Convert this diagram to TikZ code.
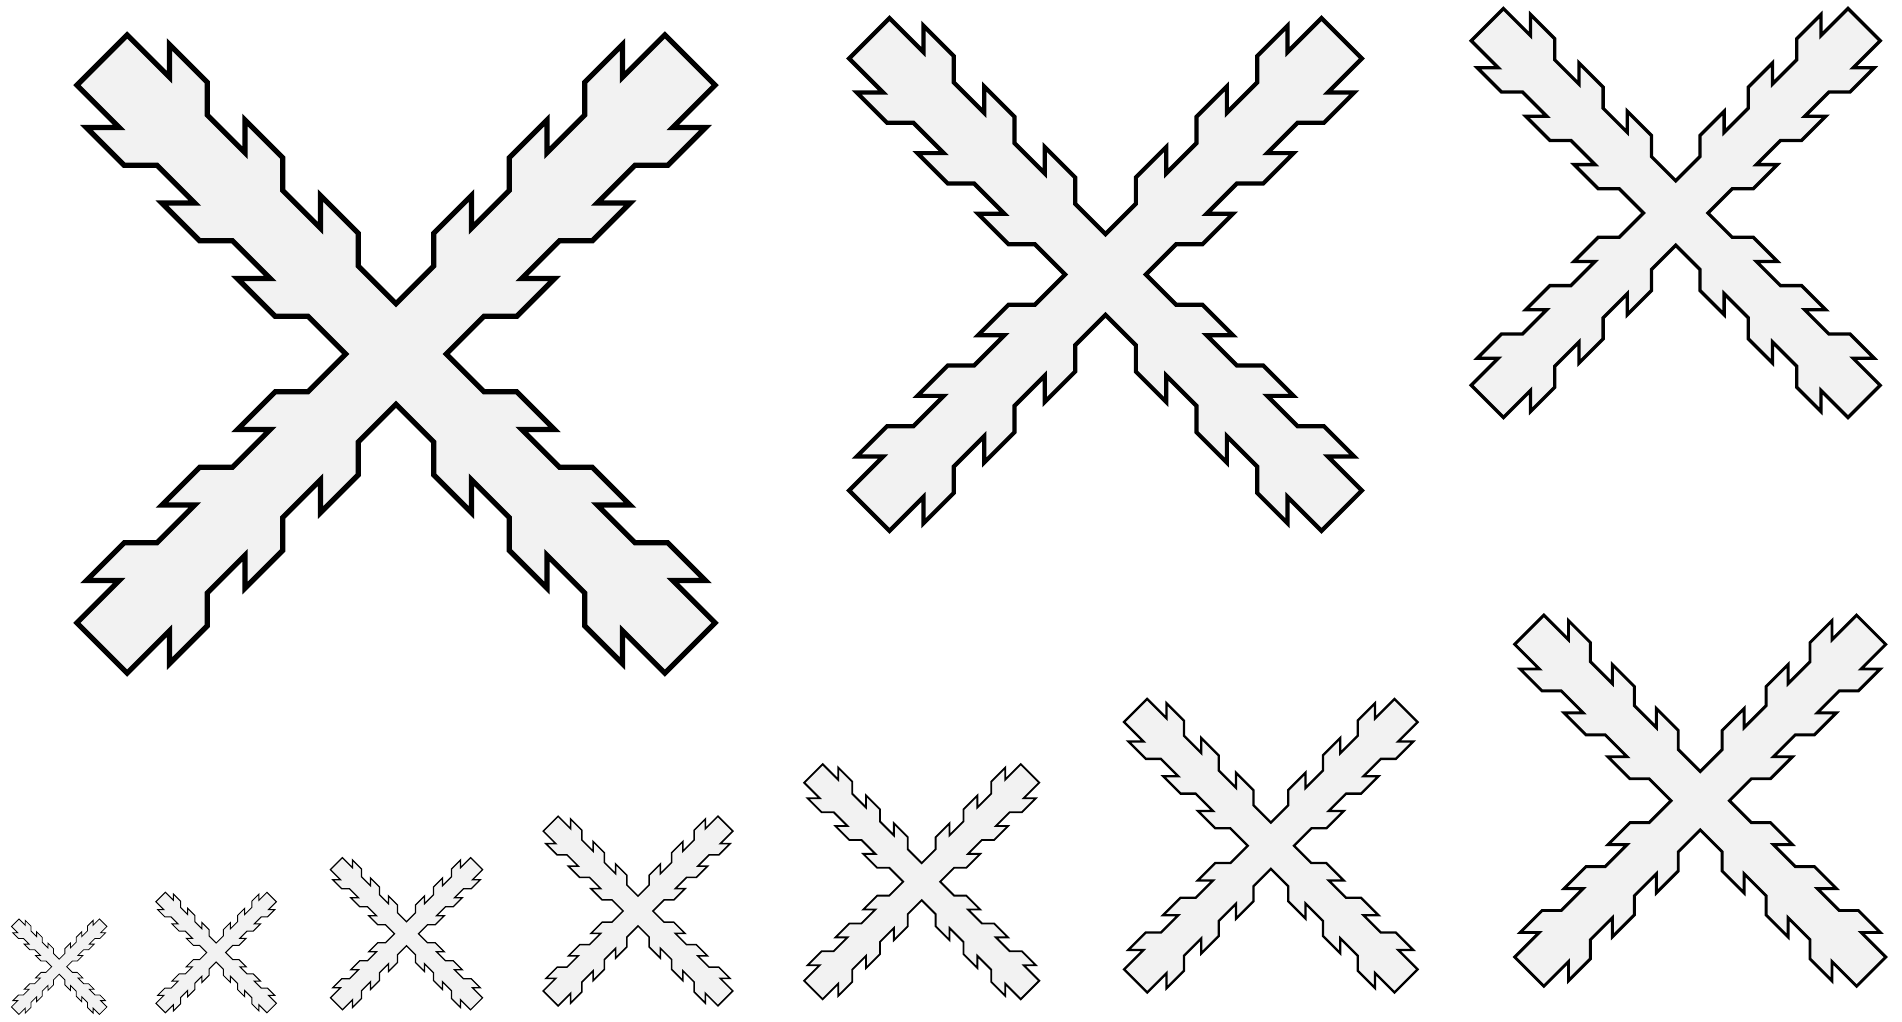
\documentclass[tikz,border=0pt]{standalone}
\definecolor{crossgray}{HTML}{F2F2F2}
\tikzset{
  crossshape/.style={fill=crossgray, draw=black, line join=miter, miter limit=10},
  burgcross/.pic={
    \filldraw[crossshape]
      (0,1.33) -- (1,2.33) -- (1,3.20) -- (2,4.20) -- (2,3.33) -- (3,4.33) -- (3,5.20)
      -- (4,6.20) -- (4,5.33) -- (5,6.33) -- (5,7.20) -- (6,8.20) -- (6,7.33)
      -- (7.12,8.45) -- (8.45,7.12)
      -- (7.33,6) -- (8.20,6) -- (7.20,5) -- (6.33,5) -- (5.33,4) -- (6.20,4)
      -- (5.20,3) -- (4.33,3) -- (3.33,2) -- (4.20,2) -- (3.20,1) -- (2.33,1)
      -- (1.33,0)
      -- (2.33,-1) -- (3.20,-1) -- (4.20,-2) -- (3.33,-2) -- (4.33,-3) -- (5.20,-3)
      -- (6.20,-4) -- (5.33,-4) -- (6.33,-5) -- (7.20,-5) -- (8.20,-6) -- (7.33,-6)
      -- (8.45,-7.12) -- (7.12,-8.45)
      -- (6,-7.33) -- (6,-8.20) -- (5,-7.20) -- (5,-6.33) -- (4,-5.33) -- (4,-6.20)
      -- (3,-5.20) -- (3,-4.33) -- (2,-3.33) -- (2,-4.20) -- (1,-3.20) -- (1,-2.33)
      -- (0,-1.33)
      -- (-1,-2.33) -- (-1,-3.20) -- (-2,-4.20) -- (-2,-3.33) -- (-3,-4.33) -- (-3,-5.20)
      -- (-4,-6.20) -- (-4,-5.33) -- (-5,-6.33) -- (-5,-7.20) -- (-6,-8.20) -- (-6,-7.33)
      -- (-7.12,-8.45) -- (-8.45,-7.12)
      -- (-7.33,-6) -- (-8.20,-6) -- (-7.20,-5) -- (-6.33,-5) -- (-5.33,-4) -- (-6.20,-4)
      -- (-5.20,-3) -- (-4.33,-3) -- (-3.33,-2) -- (-4.20,-2) -- (-3.20,-1) -- (-2.33,-1)
      -- (-1.33,0)
      -- (-2.33,1) -- (-3.20,1) -- (-4.20,2) -- (-3.33,2) -- (-4.33,3) -- (-5.20,3)
      -- (-6.20,4) -- (-5.33,4) -- (-6.33,5) -- (-7.20,5) -- (-8.20,6) -- (-7.33,6)
      -- (-8.45,7.12) -- (-7.12,8.45)
      -- (-6,7.33) -- (-6,8.20) -- (-5,7.20) -- (-5,6.33) -- (-4,5.33) -- (-4,6.20)
      -- (-3,5.20) -- (-3,4.33) -- (-2,3.33) -- (-2,4.20) -- (-1,3.20) -- (-1,2.33)
      -- cycle;
  }
}
\begin{document}
\begin{tikzpicture}[x=1pt,y=1pt]
  \fill[white] (0,0) rectangle (1902,-1021);
  \useasboundingbox (0,0) rectangle (1902,-1021);
  \pic[scale=37.76, line width=5.2pt] (c1) at (396,-354) {burgcross};
  \pic[scale=30.34, line width=4.2pt] (c2) at (1105.5,-274.5) {burgcross};
  \pic[scale=24.2, line width=3.3pt] (c3) at (1675.7,-213) {burgcross};
  \pic[scale=21.96, line width=2.9pt] (c4) at (1700.2,-800.7) {burgcross};
  \pic[scale=17.37, line width=2.3pt] (c5) at (1270.8,-845.7) {burgcross};
  \pic[scale=13.91, line width=1.8pt] (c6) at (921.7,-881.7) {burgcross};
  \pic[scale=11.22, line width=1.5pt] (c7) at (638,-911) {burgcross};
  \pic[scale=9.0, line width=1.2pt] (c8) at (406.5,-933.7) {burgcross};
  \pic[scale=7.13, line width=1.0pt] (c9) at (216.2,-952.5) {burgcross};
  \pic[scale=5.65, line width=0.8pt] (c10) at (59.2,-966.7) {burgcross};
\end{tikzpicture}
\end{document}
